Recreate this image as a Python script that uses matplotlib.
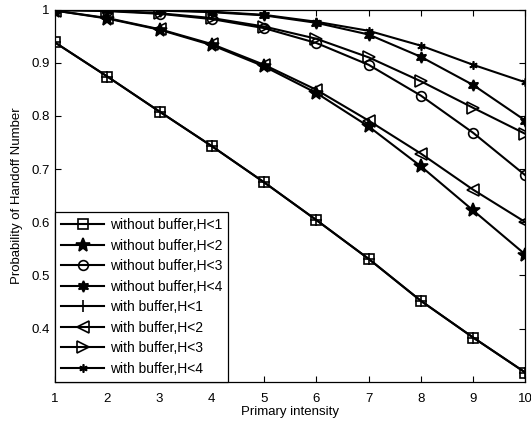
import matplotlib
matplotlib.use("Agg")
import matplotlib.pyplot as plt

plt.rcParams['font.family'] = ['Liberation Sans', 'DejaVu Sans']

intensity = [1, 2, 3, 4, 5, 6, 7, 8, 9, 10]
wo_h1 = [0.938, 0.874, 0.808, 0.743, 0.675, 0.604, 0.531, 0.452, 0.383, 0.317]
wo_h2 = [0.998, 0.983, 0.962, 0.933, 0.893, 0.843, 0.780, 0.705, 0.622, 0.539]
wo_h3 = [0.999, 0.997, 0.992, 0.982, 0.965, 0.937, 0.896, 0.838, 0.768, 0.688]
wo_h4 = [1.000, 0.999, 0.998, 0.995, 0.989, 0.975, 0.953, 0.911, 0.858, 0.791]
w_h1 = [0.938, 0.874, 0.808, 0.743, 0.675, 0.604, 0.531, 0.452, 0.383, 0.317]
w_h2 = [0.998, 0.984, 0.963, 0.935, 0.896, 0.849, 0.791, 0.729, 0.661, 0.600]
w_h3 = [0.999, 0.998, 0.993, 0.984, 0.968, 0.945, 0.910, 0.865, 0.815, 0.766]
w_h4 = [1.000, 1.000, 0.999, 0.996, 0.990, 0.977, 0.960, 0.932, 0.896, 0.863]

labels = ['without buffer,H<1', 'without buffer,H<2', 'without buffer,H<3',
          'without buffer,H<4', 'with buffer,H<1', 'with buffer,H<2',
          'with buffer,H<3', 'with buffer,H<4']
series = [wo_h1, wo_h2, wo_h3, wo_h4, w_h1, w_h2, w_h3, w_h4]
styles = [
    dict(marker='s', ms=7, mfc='none'),
    dict(marker='*', ms=10, mfc='black'),
    dict(marker='o', ms=7, mfc='none'),
    dict(marker=(6, 1, 0), ms=8, mfc='black'),
    dict(marker='+', ms=8),
    dict(marker='<', ms=8, mfc='none'),
    dict(marker='>', ms=8, mfc='none'),
    dict(marker=(6, 2, 0), ms=6),
]

fig = plt.figure(figsize=(5.31, 4.25), dpi=100)
ax = fig.add_axes([0.1036, 0.1019, 0.8860, 0.8757])

for y, lab, st in zip(series, labels, styles):
    ax.plot(intensity, y, color='black', lw=1.5, mec='black', mew=1.2,
            label=lab, **st)

ax.set_xlim(1, 10)
ax.set_ylim(0.3, 1.0)
ax.set_xticks(intensity)
ax.set_xticklabels([str(v) for v in intensity])
ax.set_yticks([0.4, 0.5, 0.6, 0.7, 0.8, 0.9, 1.0])
ax.set_yticklabels(['0.4', '0.5', '0.6', '0.7', '0.8', '0.9', '1'])
ax.tick_params(direction='in', top=True, right=True, length=4, width=0.8,
               labelsize=9.5)
ax.tick_params(axis='x', pad=8)
ax.tick_params(axis='y', pad=4)
for s in ax.spines.values():
    s.set_linewidth(0.9)

ax.set_xlabel('Primary intensity', fontsize=9.5, labelpad=1)
ax.set_ylabel('Probability of Handoff Number', fontsize=9.5, labelpad=6)

leg = ax.legend(loc='lower left', bbox_to_anchor=(0, 0), borderaxespad=0,
                fontsize=10, fancybox=False, edgecolor='black',
                framealpha=1, handlelength=3.1, labelspacing=0.47,
                handletextpad=0.4, borderpad=0.43)
leg.get_frame().set_linewidth(0.9)

fig.savefig('out.png', dpi=100)
